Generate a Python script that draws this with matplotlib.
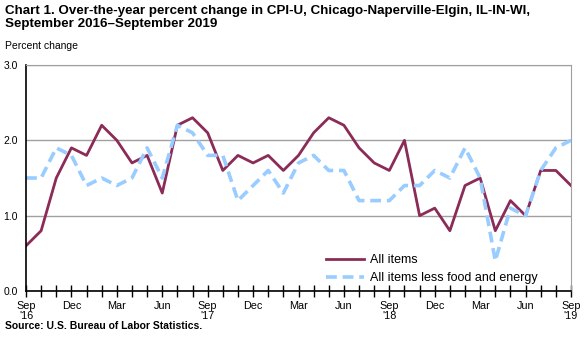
import matplotlib.pyplot as plt

# monthly data, Sep 2016 - Sep 2019
months = ["Sep", "Oct", "Nov", "Dec", "Jan", "Feb", "Mar", "Apr", "May", "Jun", "Jul", "Aug"] * 3 + ["Sep"]
all_items = [0.6, 0.8, 1.5, 1.9, 1.8, 2.2, 2.0, 1.7, 1.8, 1.3, 2.2, 2.3,
             2.1, 1.6, 1.8, 1.7, 1.8, 1.6, 1.8, 2.1, 2.3, 2.2, 1.9, 1.7,
             1.6, 2.0, 1.0, 1.1, 0.8, 1.4, 1.5, 0.8, 1.2, 1.0, 1.6, 1.6,
             1.4]
core = [1.5, 1.5, 1.9, 1.8, 1.4, 1.5, 1.4, 1.5, 1.9, 1.5, 2.2, 2.1,
        1.8, 1.8, 1.2, 1.4, 1.6, 1.3, 1.7, 1.8, 1.6, 1.6, 1.2, 1.2,
        1.2, 1.4, 1.4, 1.6, 1.5, 1.9, 1.5, 0.4, 1.1, 1.0, 1.6, 1.9,
        2.0]
year_marks = {0: "'16", 12: "'17", 24: "'18", 36: "'19"}

plt.rcParams["font.family"] = ["Liberation Sans", "DejaVu Sans"]

fig = plt.figure(figsize=(5.88, 3.37), dpi=100)
ax = fig.add_axes([26 / 588, 1 - 291 / 337, 545 / 588, 226 / 337])

x = list(range(len(all_items)))
ax.plot(x, all_items, color="#8B2B57", lw=2, label="All items")
ax.plot(x, core, color="#99CCFF", lw=2.6, ls=(0, (3, 1.6)), label="All items less food and energy")

ax.set_xlim(0, 36)
ax.set_ylim(0, 3)
ax.set_yticks([0, 1, 2, 3])
ax.set_yticklabels(["0.0", "1.0", "2.0", "3.0"], fontsize=7.5)
ax.yaxis.grid(True, color="#A0A0A0", lw=1)
ax.set_axisbelow(True)
ax.tick_params(axis="y", length=0, pad=6)

ax.set_xticks(x, minor=True)
ticks = list(range(0, 37, 3))
labels = []
for i in ticks:
    lab = months[i]
    if i in year_marks:
        lab += "\n" + year_marks[i]
    labels.append(lab)
ax.set_xticks(ticks)
ax.set_xticklabels(labels, fontsize=7.8, linespacing=1.0)
ax.tick_params(axis="x", which="both", direction="inout", length=8, width=1, pad=3)

for s in ["top", "right"]:
    ax.spines[s].set_color("#A0A0A0")
for s in ["left", "bottom"]:
    ax.spines[s].set_color("black")
    ax.spines[s].set_linewidth(1.2)

ax.legend(loc="lower left", bbox_to_anchor=(0.53, -0.02), frameon=False, fontsize=9,
          handlelength=3.0, handletextpad=0.5, labelspacing=0.5)

fig.text(5 / 588, 1 - 5 / 337, "Chart 1. Over-the-year percent change in CPI-U, Chicago-Naperville-Elgin, IL-IN-WI,\nSeptember 2016\u2013September 2019",
         fontsize=9.6, fontweight="bold", va="top", ha="left", linespacing=1.1)
fig.text(5 / 588, 1 - 46 / 337, "Percent change", fontsize=7.5, va="center", ha="left")
fig.text(5 / 588, 1 - 326 / 337, "Source: U.S. Bureau of Labor Statistics.", fontsize=7.5, fontweight="bold",
         va="center", ha="left")

fig.savefig("out.png", dpi=100)
